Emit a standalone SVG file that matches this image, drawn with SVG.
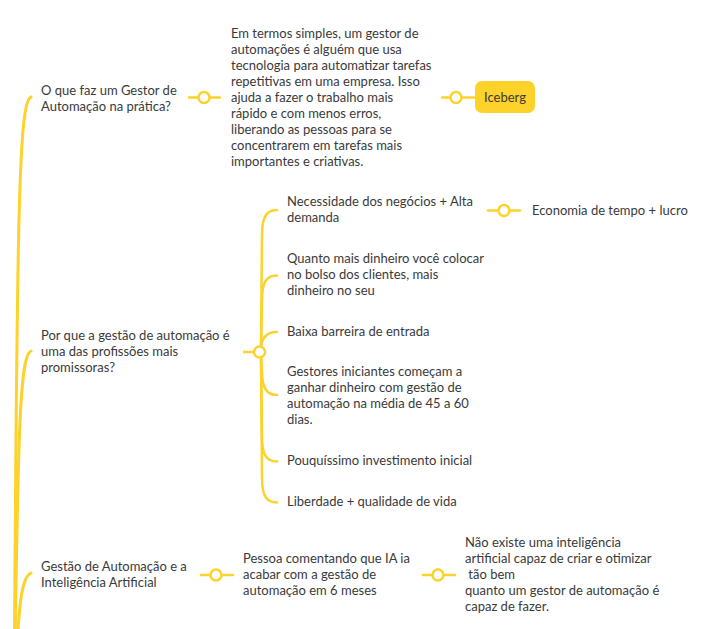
<svg xmlns="http://www.w3.org/2000/svg" width="706" height="629" viewBox="0 0 706 629">
<style>
  .t { font-family: "Lato", "Noto Sans", "Liberation Sans", sans-serif; font-size: 13px; fill: #3a3a3a; }
  .br { fill: none; stroke: #FCD22B; stroke-width: 2.5; stroke-linecap: round; }
  .trunk { fill: none; stroke: #FCD22B; stroke-width: 3; stroke-linecap: round; }
  .dot { fill: #ffffff; stroke: #FCD22B; stroke-width: 2.5; }
</style>
<rect width="706" height="629" fill="#ffffff"/>
<g id="connectors">
  <path class="trunk" d="M14 720 C17 200 19 102 31 97"/>
  <path class="trunk" d="M14 720 C18 420 20 356 31 351"/>
  <path class="trunk" d="M14 720 C18 610 20 578 31 573"/>
  <line class="br" x1="189" y1="97.5" x2="220" y2="97.5"/>
  <circle class="dot" cx="204" cy="97.5" r="5.5"/>
  <line class="br" x1="442" y1="97.5" x2="475" y2="97.5"/>
  <circle class="dot" cx="456" cy="97.5" r="5.5"/>
  <line class="br" x1="244" y1="352" x2="256" y2="352"/>
  <path class="br" d="M261 347 L262 235 C262 218 266 210 277 210"/>
  <path class="br" d="M261 347 L262 300 C262 283 266 275.5 277 275.5"/>
  <path class="br" d="M261 347 C262 338 266 332 277 332"/>
  <path class="br" d="M261 357 L262 371 C262 387 266 395 277 395"/>
  <path class="br" d="M261 357 L262 437 C262 454 266 461.5 277 461.5"/>
  <path class="br" d="M261 357 L262 478 C262 495 266 502.5 277 502.5"/>
  <circle class="dot" cx="259.5" cy="352" r="5.5"/>
  <line class="br" x1="488" y1="210.5" x2="520" y2="210.5"/>
  <circle class="dot" cx="504" cy="210.5" r="5.5"/>
  <line class="br" x1="201" y1="575" x2="233" y2="575"/>
  <circle class="dot" cx="216" cy="575" r="5.5"/>
  <line class="br" x1="423" y1="575" x2="455" y2="575"/>
  <circle class="dot" cx="438" cy="575" r="5.5"/>
</g>
<g id="n1">
  <text class="t" x="41" y="94.5">O que faz um Gestor de</text>
  <text class="t" x="41" y="110.5">Automação na prática?</text>
</g>
<g id="n1a">
  <text class="t" x="231" y="38">Em termos simples, um gestor de</text>
  <text class="t" x="231" y="54">automações é alguém que usa</text>
  <text class="t" x="231" y="70">tecnologia para automatizar tarefas</text>
  <text class="t" x="231" y="86">repetitivas em uma empresa. Isso</text>
  <text class="t" x="231" y="102">ajuda a fazer o trabalho mais</text>
  <text class="t" x="231" y="118">rápido e com menos erros,</text>
  <text class="t" x="231" y="134">liberando as pessoas para se</text>
  <text class="t" x="231" y="150">concentrarem em tarefas mais</text>
  <text class="t" x="231" y="166">importantes e criativas.</text>
</g>
<g id="n1b">
  <rect x="475" y="81" width="60" height="32" rx="7" fill="#FCD22B"/>
  <text class="t" x="505" y="102" text-anchor="middle">Iceberg</text>
</g>
<g id="n2">
  <text class="t" x="41" y="340">Por que a gestão de automação é</text>
  <text class="t" x="41" y="356">uma das profissões mais</text>
  <text class="t" x="41" y="372">promissoras?</text>
</g>
<g id="n2a">
  <text class="t" x="287" y="206">Necessidade dos negócios + Alta</text>
  <text class="t" x="287" y="222">demanda</text>
</g>
<g id="n2a1">
  <text class="t" x="532" y="214.5">Economia de tempo + lucro</text>
</g>
<g id="n2b">
  <text class="t" x="287" y="263">Quanto mais dinheiro você colocar</text>
  <text class="t" x="287" y="279">no bolso dos clientes, mais</text>
  <text class="t" x="287" y="295">dinheiro no seu</text>
</g>
<g id="n2c">
  <text class="t" x="287" y="336">Baixa barreira de entrada</text>
</g>
<g id="n2d">
  <text class="t" x="287" y="376">Gestores iniciantes começam a</text>
  <text class="t" x="287" y="392">ganhar dinheiro com gestão de</text>
  <text class="t" x="287" y="408">automação na média de 45 a 60</text>
  <text class="t" x="287" y="424">dias.</text>
</g>
<g id="n2e">
  <text class="t" x="287" y="465">Pouquíssimo investimento inicial</text>
</g>
<g id="n2f">
  <text class="t" x="287" y="506">Liberdade + qualidade de vida</text>
</g>
<g id="n3">
  <text class="t" x="41" y="571">Gestão de Automação e a</text>
  <text class="t" x="41" y="587">Inteligência Artificial</text>
</g>
<g id="n3a">
  <text class="t" x="243" y="563">Pessoa comentando que IA ia</text>
  <text class="t" x="243" y="579">acabar com a gestão de</text>
  <text class="t" x="243" y="595">automação em 6 meses</text>
</g>
<g id="n3b">
  <text class="t" x="465" y="547">Não existe uma inteligência</text>
  <text class="t" x="465" y="563">artificial capaz de criar e otimizar</text>
  <text class="t" x="465" y="579" xml:space="preserve"> tão bem</text>
  <text class="t" x="465" y="595">quanto um gestor de automação é</text>
  <text class="t" x="465" y="611">capaz de fazer.</text>
</g>
</svg>
